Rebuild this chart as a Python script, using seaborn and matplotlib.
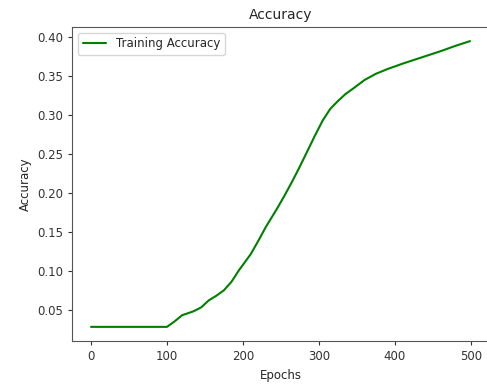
import pandas as pd
import matplotlib
matplotlib.use("Agg")
import matplotlib.pyplot as plt
import seaborn as sns

# values
epochs = [0, 25, 50, 75, 100, 110, 120, 135, 145, 155, 165, 175, 185, 195,
          210, 220, 230, 245, 255, 265, 275, 285, 295, 305, 315, 325, 335,
          345, 360, 375, 390, 410, 435, 460, 480, 499]
accuracy = [0.028, 0.028, 0.028, 0.028, 0.028, 0.035, 0.043, 0.048, 0.053,
            0.062, 0.068, 0.075, 0.086, 0.101, 0.121, 0.138, 0.156, 0.180,
            0.197, 0.215, 0.234, 0.254, 0.274, 0.293, 0.308, 0.318, 0.327,
            0.334, 0.345, 0.353, 0.359, 0.366, 0.374, 0.382, 0.389, 0.395]

x_ticks = [0, 100, 200, 300, 400, 500]
y_ticks = [0.05, 0.10, 0.15, 0.20, 0.25, 0.30, 0.35, 0.40]

df = pd.DataFrame({'Epochs': epochs, 'Accuracy': accuracy})

sns.set_style("ticks")
plt.rcParams['font.family'] = ['DejaVu Sans']

fig = plt.figure(figsize=(4.87, 3.89), dpi=100)
# right edge of the axes sits just past the image border, as in the reference
ax = fig.add_axes([0.148, 0.123, 0.856, 0.808])

sns.lineplot(data=df, x='Epochs', y='Accuracy', color='green', linewidth=1.5,
             label='Training Accuracy', ax=ax)

ax.set_xticks(x_ticks)
ax.set_yticks(y_ticks)
ax.set_yticklabels([f"{v:.2f}" for v in y_ticks])
ax.tick_params(labelsize=8.5, length=3, colors='#333333')
for s in ax.spines.values():
    s.set_color('#555555')
ax.spines['right'].set_visible(False)
ax.margins(x=0.05, y=0.05)

ax.set_title('Accuracy', fontsize=10)
ax.set_xlabel('Epochs', fontsize=8.5)
ax.set_ylabel('Accuracy', fontsize=8.5)
ax.legend(loc='upper left', fontsize=8.5, frameon=True)

fig.savefig('out.png', dpi=100)
